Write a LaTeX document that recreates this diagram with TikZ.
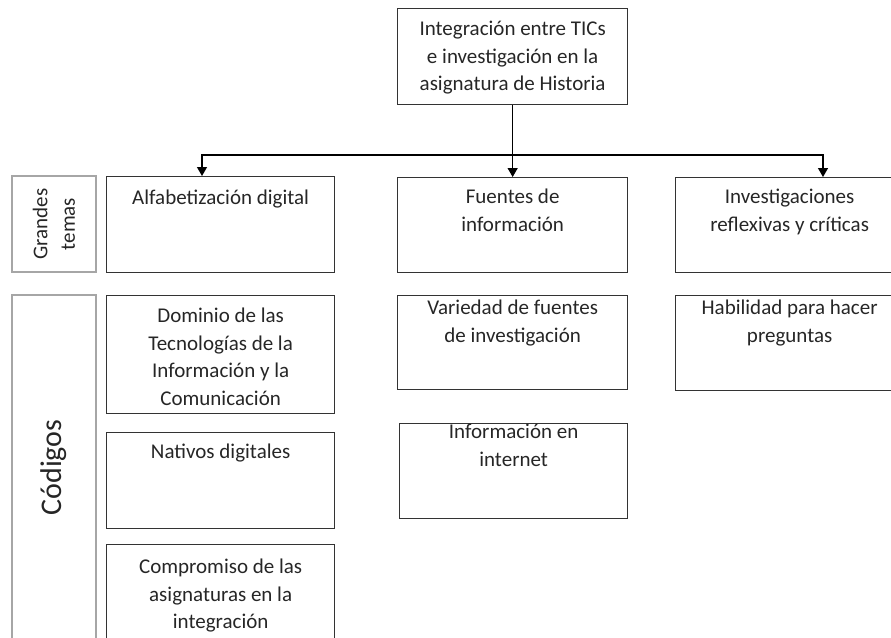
\documentclass[tikz,border=0pt]{standalone}
\usepackage{fontspec}
\setmainfont{Carlito}
\usepackage{tikz}
\usetikzlibrary{arrows.meta}

% box text: width, height, first baseline, lines
\newcommand{\textocaja}[4]{\parbox[c][#2][t]{#1}{\centering\rule{0pt}{#3}#4}}

\begin{document}
\begin{tikzpicture}[x=1pt, y=-1pt,
  caja/.style={draw=black!80, line width=1.3pt, inner sep=0pt, anchor=north west,
    font=\fontsize{21}{27.5}\selectfont, text=black!85},
  etiqueta/.style={draw=black!35, line width=1.3pt, inner sep=0pt, rotate=90,
    align=center, minimum height=84pt, text=black!85},
  flecha/.style={-{Triangle[width=10pt,length=9pt]}, line width=1.3pt}]

\clip (0,0) rectangle (891,637);

% top box
\node[caja] (titulo) at (397,8) {\textocaja{230pt}{96pt}{27pt}{Integración entre TICs\\e investigación en la\\asignatura de Historia}};

% grandes temas
\node[caja] (alfa) at (106,176) {\textocaja{228pt}{96pt}{28pt}{Alfabetización digital}};
\node[caja] (fuentes) at (397,177) {\textocaja{230pt}{95pt}{26pt}{Fuentes de\\información}};
\node[caja] (invest) at (675,177) {\textocaja{228pt}{95pt}{26pt}{Investigaciones\\reflexivas y críticas}};

% codigos
\node[caja] (dominio) at (106,295) {\textocaja{228pt}{118pt}{27pt}{Dominio de las\\Tecnologías de la\\Información y la\\Comunicación}};
\node[caja] (nativos) at (106,432) {\textocaja{228pt}{96pt}{26pt}{Nativos digitales}};
\node[caja] (compromiso) at (106,544) {\textocaja{228pt}{118pt}{29pt}{Compromiso de las\\asignaturas en la\\integración}};
\node[caja] (variedad) at (397,295) {\textocaja{230pt}{94pt}{19pt}{Variedad de fuentes\\de investigación}};
\node[caja] (internet) at (399,423) {\textocaja{228pt}{95pt}{15pt}{Información en\\internet}};
\node[caja] (habilidad) at (675,295) {\textocaja{228pt}{95pt}{19pt}{Habilidad para hacer\\preguntas}};

% side labels
\node[etiqueta, minimum width=96pt, font=\fontsize{21}{27.5}\selectfont] (grandes) at (54,224) {Grandes\\temas};
\node[etiqueta, minimum width=345pt, font=\fontsize{30}{36}\selectfont] (codigos) at (54,467.5) {Códigos};

% draw connectors
\coordinate (izq) at (202,155);
\coordinate (der) at (823,155);
\draw[flecha] (titulo) -- (fuentes);
\draw[flecha] (titulo.south |- izq) -- (izq) -- (izq |- alfa.north);
\draw[flecha] (titulo.south |- izq) -- (der) -- (der |- invest.north);

\end{tikzpicture}
\end{document}
